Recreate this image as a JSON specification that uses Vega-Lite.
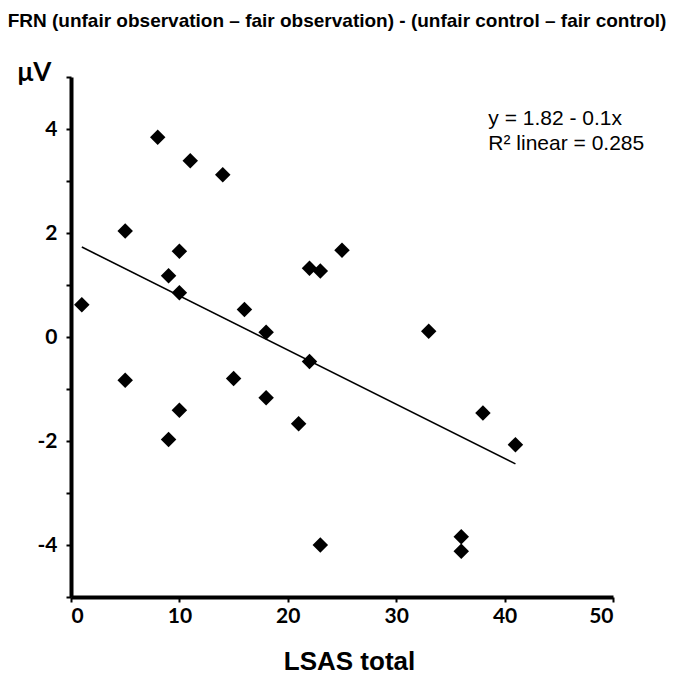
{
  "$schema": "https://vega.github.io/schema/vega-lite/v6.json",
  "width": 542,
  "height": 520,
  "autosize": {"type": "none"},
  "padding": {"left": 71, "top": 77, "right": 62, "bottom": 79},
  "background": "white",
  "title": {
    "text": "FRN (unfair observation – fair observation) - (unfair control – fair control)",
    "font": "Liberation Sans",
    "fontWeight": "bold",
    "fontSize": 19,
    "color": "black",
    "anchor": "middle",
    "frame": "group",
    "dx": -5,
    "dy": -24
  },
  "config": {
    "view": {"stroke": null},
    "axis": {
      "grid": false,
      "domainColor": "black",
      "domainWidth": 4,
      "tickColor": "black",
      "tickWidth": 2,
      "tickSize": 5,
      "labelColor": "black",
      "labelFont": "Lato",
      "labelFontWeight": "bold",
      "labelFontSize": 21,
      "titleColor": "black",
      "titleFont": "Liberation Sans",
      "titleFontWeight": "bold",
      "titleFontSize": 26
    }
  },
  "datasets": {
    "points": [
      {"lsas": 1, "frn": 0.62},
      {"lsas": 5, "frn": 2.04},
      {"lsas": 5, "frn": -0.83},
      {"lsas": 8, "frn": 3.84},
      {"lsas": 9, "frn": 1.18},
      {"lsas": 9, "frn": -1.97},
      {"lsas": 10, "frn": 1.65},
      {"lsas": 10, "frn": 0.85},
      {"lsas": 10, "frn": -1.41},
      {"lsas": 11, "frn": 3.39},
      {"lsas": 14, "frn": 3.12},
      {"lsas": 15, "frn": -0.8},
      {"lsas": 16, "frn": 0.53},
      {"lsas": 18, "frn": 0.09},
      {"lsas": 18, "frn": -1.17},
      {"lsas": 21, "frn": -1.67},
      {"lsas": 22, "frn": 1.32},
      {"lsas": 22, "frn": -0.47},
      {"lsas": 23, "frn": 1.27},
      {"lsas": 23, "frn": -4.0},
      {"lsas": 25, "frn": 1.67},
      {"lsas": 33, "frn": 0.11},
      {"lsas": 36, "frn": -3.84},
      {"lsas": 36, "frn": -4.12},
      {"lsas": 38, "frn": -1.46},
      {"lsas": 41, "frn": -2.07}
    ],
    "fit": [
      {"lsas": 1, "frn": 1.73},
      {"lsas": 41, "frn": -2.44}
    ]
  },
  "layer": [
    {
      "data": {"name": "fit"},
      "mark": {"type": "line", "color": "black", "strokeWidth": 1.6},
      "encoding": {
        "x": {
          "field": "lsas",
          "type": "quantitative",
          "scale": {"domain": [0, 50], "nice": false, "zero": false},
          "axis": {
            "title": "LSAS total",
            "values": [0, 10, 20, 30, 40, 50],
            "labelPadding": 3,
            "titlePadding": 22,
            "titleX": 278
          }
        },
        "y": {
          "field": "frn",
          "type": "quantitative",
          "scale": {"domain": [-5, 5], "nice": false},
          "axis": {
            "title": "μV",
            "values": [-5, -4, -3, -2, -1, 0, 1, 2, 3, 4, 5],
            "labelExpr": "datum.value % 2 == 0 ? '' + datum.value : ''",
            "labelPadding": 9,
            "titleAngle": 0,
            "titleX": -37,
            "titleY": 3,
            "titleFont": "Lato",
            "titleAlign": "center",
            "titleBaseline": "alphabetic"
          }
        }
      }
    },
    {
      "data": {"name": "points"},
      "mark": {"type": "point", "shape": "diamond", "filled": true, "color": "black", "opacity": 1, "size": 240},
      "encoding": {
        "x": {"field": "lsas", "type": "quantitative"},
        "y": {"field": "frn", "type": "quantitative"}
      }
    },
    {
      "data": {"values": [{}]},
      "mark": {
        "type": "text",
        "text": ["y = 1.82 - 0.1x", "R² linear = 0.285"],
        "font": "Liberation Sans",
        "fontSize": 21,
        "lineHeight": 25,
        "align": "left",
        "baseline": "middle",
        "color": "black"
      },
      "encoding": {
        "x": {"datum": 38.5},
        "y": {"datum": 4.2}
      }
    }
  ]
}
